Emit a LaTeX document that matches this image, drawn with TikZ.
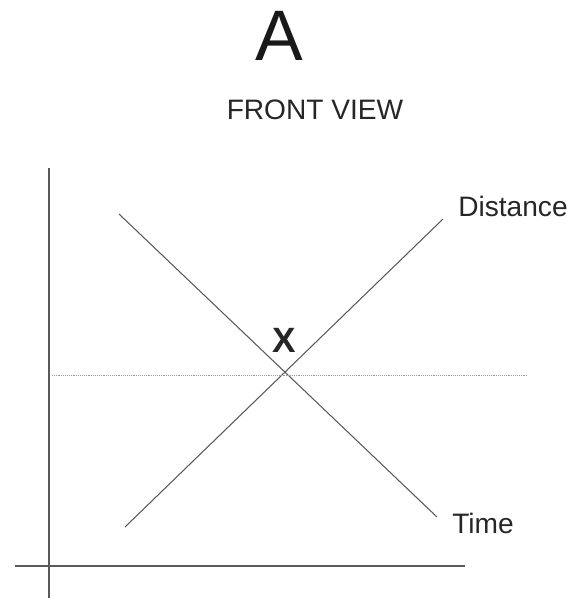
\documentclass[tikz,border=0pt]{standalone}
\usepackage{fontspec}
\setmainfont{Liberation Sans}
\usepackage{tikz}

\begin{document}
\begin{tikzpicture}[x=0.03cm, y=-0.03cm,
  axis/.style={draw=black!65, line width=1.4pt},
  graphline/.style={draw=black!65, line width=0.9pt},
  guide/.style={draw=black!40, densely dotted, line width=0.6pt},
  lbl/.style={font=\fontsize{24}{28}\selectfont, inner sep=0pt, text=black!85}]
\useasboundingbox (0,0) rectangle (573,598);
\node[font=\fontsize{61}{66}\selectfont, inner sep=0pt, text=black!90] (title) at (279,36) {A};
\node[lbl] (view) at (315,110) {FRONT VIEW};
% axes
\coordinate (ytop) at (49,168);
\coordinate (ybot) at (49,598);
\coordinate (xl) at (15,566);
\coordinate (xr) at (465,566);
\draw[axis] (ytop) -- (ybot);
\draw[axis] (xl) -- (xr);
% the two lines
\coordinate (tstart) at (119,214);
\coordinate (tend) at (437,517);
\coordinate (dstart) at (125,527);
\coordinate (dend) at (443,219);
\draw[graphline] (tstart) -- (tend);
\draw[graphline] (dstart) -- (dend);
\coordinate (gl) at (52,375);
\coordinate (gr) at (528,375);
\draw[guide] (gl) -- (gr);
\node[lbl] (dist) at (513,206) {Distance};
\node[lbl] (time) at (483,523) {Time};
\node[font=\fontsize{30}{34}\selectfont\bfseries, inner sep=0pt, text=black!85] (cross) at (284,340) {X};
\end{tikzpicture}
\end{document}
